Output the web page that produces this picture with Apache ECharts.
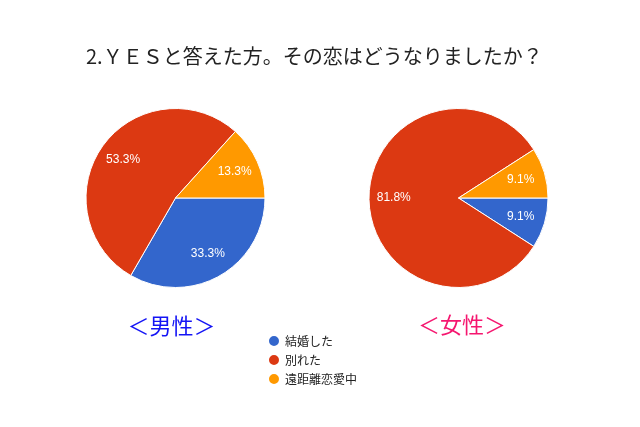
<!DOCTYPE html>
<html>
<head>
<meta charset="utf-8">
<script src="https://cdn.jsdelivr.net/npm/echarts@6/dist/echarts.min.js"></script>
<style>
  html, body { margin: 0; padding: 0; background: #fff; }
  #chart { width: 640px; height: 427px; }
</style>
</head>
<body>
<div id="chart"></div>
<script>
// 回答の区分と人数
var categories = ['結婚した', '別れた', '遠距離恋愛中'];
var colors = ['#3366cc', '#dc3912', '#ff9900'];
var maleCounts = [5, 8, 2];
var femaleCounts = [1, 9, 1];

var myChart = echarts.init(document.getElementById('chart'));

function toData(counts) {
	var list = [];
	for (var i = 0; i < categories.length; i++) {
		list.push({ name: categories[i], value: counts[i] });
	}
	return list;
}

// 本体の円グラフ（ラベルなし）
function pieSeries(counts, center) {
	return {
		type: 'pie',
		center: center,
		radius: [0, 89.5],
		startAngle: 0,
		clockwise: true,
		data: toData(counts),
		label: { show: false },
		labelLine: { show: false },
		itemStyle: { borderColor: '#fff', borderWidth: 1 },
		emphasis: { disabled: true }
	};
}

// ラベルだけの透明なリング（ラベルを半径の約7割の位置に置くため）
function labelSeries(counts, center) {
	return {
		type: 'pie',
		center: center,
		radius: [34, 89.5],
		startAngle: 0,
		clockwise: true,
		silent: true,
		legendHoverLink: false,
		data: toData(counts),
		itemStyle: { color: 'rgba(0,0,0,0)', borderWidth: 0 },
		label: {
			show: true,
			position: 'inside',
			color: '#fff',
			fontSize: 12,
			fontFamily: 'Liberation Sans, Arial, sans-serif',
			formatter: function(p) {
				return p.percent.toFixed(1) + '%';
			}
		},
		labelLine: { show: false },
		emphasis: { disabled: true }
	};
}

var maleCenter = [175.5, 198];
var femaleCenter = [458.5, 198];

option = {
	backgroundColor: '#fff',
	animation: false,
	color: colors,
	title: {
		text: '2.ＹＥＳと答えた方。その恋はどうなりましたか？',
		left: 86,
		top: 46,
		padding: 0,
		textStyle: {
			fontSize: 20,
			fontWeight: 'normal',
			color: '#222',
			fontFamily: 'Noto Sans CJK JP, sans-serif'
		}
	},
	legend: {
		orient: 'vertical',
		left: 267,
		top: 334,
		padding: 0,
		icon: 'circle',
		itemWidth: 12,
		itemHeight: 12,
		itemGap: 5,
		data: categories,
		textStyle: {
			fontSize: 12,
			color: '#222',
			fontFamily: 'Noto Sans CJK JP, sans-serif'
		}
	},
	graphic: [
		{
			type: 'text',
			x: 171.5,
			y: 326,
			style: {
				text: '＜男性＞',
				fill: '#1414f5',
				fontSize: 22,
				fontFamily: 'Noto Sans CJK JP, sans-serif',
				textAlign: 'center',
				textVerticalAlign: 'middle'
			}
		},
		{
			type: 'text',
			x: 462,
			y: 325,
			style: {
				text: '＜女性＞',
				fill: '#f5166f',
				fontSize: 22,
				fontFamily: 'Noto Sans CJK JP, sans-serif',
				textAlign: 'center',
				textVerticalAlign: 'middle'
			}
		}
	],
	series: [
		pieSeries(maleCounts, maleCenter),
		labelSeries(maleCounts, maleCenter),
		pieSeries(femaleCounts, femaleCenter),
		labelSeries(femaleCounts, femaleCenter)
	]
};

myChart.setOption(option);
</script>
</body>
</html>
